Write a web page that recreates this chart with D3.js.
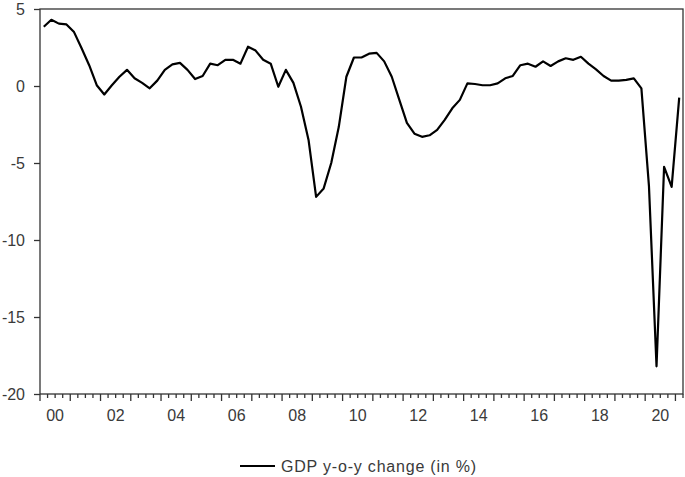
<!DOCTYPE html>
<html>
<head>
	<title>GDP y-o-y change</title>
	<meta charset="utf-8">
	<script src="https://cdn.jsdelivr.net/npm/d3@7"></script>
	<style>
		body { margin:0; background:white; }
		#chart { width:685px; height:477px; }
		text { font-family: Arial, "Liberation Sans", sans-serif; fill:#3a3a3a; }
	</style>
</head>
<body>
	<div id="chart"></div>
	<script>
		// quarterly, 2000Q1 .. 2021Q1
		var startYear = 2000;
		var gdp = [
			3.85, 4.3, 4.05, 4.0,      // 2000
			3.5, 2.45, 1.35, 0.05,     // 2001
			-0.55, 0.05, 0.6, 1.05,    // 2002
			0.5, 0.2, -0.15, 0.35,     // 2003
			1.05, 1.4, 1.5, 1.05,      // 2004
			0.45, 0.65, 1.45, 1.35,    // 2005
			1.7, 1.7, 1.45, 2.55,      // 2006
			2.3, 1.7, 1.45, -0.05,     // 2007
			1.05, 0.2, -1.35, -3.5,    // 2008
			-7.2, -6.65, -5.0, -2.65,  // 2009
			0.6, 1.85, 1.85, 2.1,      // 2010
			2.15, 1.6, 0.6, -0.9,      // 2011
			-2.4, -3.1, -3.3, -3.2,    // 2012
			-2.85, -2.2, -1.45, -0.9,  // 2013
			0.17, 0.13, 0.05, 0.05,    // 2014
			0.17, 0.5, 0.65, 1.35,     // 2015
			1.45, 1.25, 1.6, 1.3,      // 2016
			1.6, 1.8, 1.7, 1.9,        // 2017
			1.45, 1.08, 0.65, 0.35,    // 2018
			0.35, 0.4, 0.5, -0.15,     // 2019
			-6.5, -18.2, -5.25, -6.55, // 2020
			-0.75                      // 2021
		];
		var yTicks = [5, 0, -5, -10, -15, -20];
		var xLabels = ["00", "02", "04", "06", "08", "10", "12", "14", "16", "18", "20"];
		var legendLabel = "GDP y-o-y change (in %)";

		var mLeft = 40, mRight = 683, mTop = 9, mBottom = 394;
		var nq = gdp.length;

		var svg = d3.select('#chart')
			.append('svg')
			.attr('width', 685)
			.attr('height', 477);

		var x = d3.scaleLinear().domain([0, nq]).range([mLeft, mRight]);
		var y = d3.scaleLinear().domain([-20, 5]).range([mBottom, mTop]);

		// frame
		svg.append('rect')
			.attr('x', mLeft).attr('y', mTop)
			.attr('width', mRight - mLeft).attr('height', mBottom - mTop)
			.attr('fill', 'none').attr('stroke', '#333').attr('stroke-width', 1.3);

		// y axis (plain hyphen for negatives, like the original)
		var yAxis = d3.axisLeft(y).tickValues(yTicks).tickSize(6).tickPadding(9)
			.tickFormat(function(d) { return String(d); });
		var gy = svg.append('g').attr('transform', 'translate(' + mLeft + ',0)').call(yAxis);
		gy.select('.domain').remove();
		gy.selectAll('line').attr('stroke', '#333').attr('stroke-width', 1.3);
		gy.selectAll('text').attr('font-size', 16).attr('fill', '#3a3a3a')
			.attr('font-family', 'Arial, "Liberation Sans", sans-serif');

		// x ticks: quarters small, years long
		var qTicks = d3.range(0, nq + 1);
		svg.append('g').selectAll('line')
			.data(qTicks)
			.enter().append('line')
			.attr('x1', function(d) { return x(d); })
			.attr('x2', function(d) { return x(d); })
			.attr('y1', mBottom)
			.attr('y2', function(d) { return mBottom + (d % 4 == 0 ? 7 : 4); })
			.attr('stroke', '#333').attr('stroke-width', 1.3);

		svg.append('g').selectAll('text')
			.data(xLabels)
			.enter().append('text')
			.attr('x', function(d, i) { return x(i * 8 + 2); })
			.attr('y', 421)
			.attr('text-anchor', 'middle')
			.attr('font-size', 16)
			.text(function(d) { return d; });

		// series
		var line = d3.line()
			.x(function(d, i) { return x(i + 0.5); })
			.y(function(d) { return y(d); });

		svg.append('path')
			.datum(gdp)
			.attr('d', line)
			.attr('fill', 'none')
			.attr('stroke', '#000')
			.attr('stroke-width', 2.2)
			.attr('stroke-linejoin', 'round');

		// legend
		svg.append('line')
			.attr('x1', 240).attr('x2', 275)
			.attr('y1', 466).attr('y2', 466)
			.attr('stroke', '#000').attr('stroke-width', 2.2);
		svg.append('text')
			.attr('x', 281).attr('y', 472)
			.attr('font-size', 16)
			.attr('letter-spacing', 0.8)
			.text(legendLabel);
	</script>
</body>
</html>
